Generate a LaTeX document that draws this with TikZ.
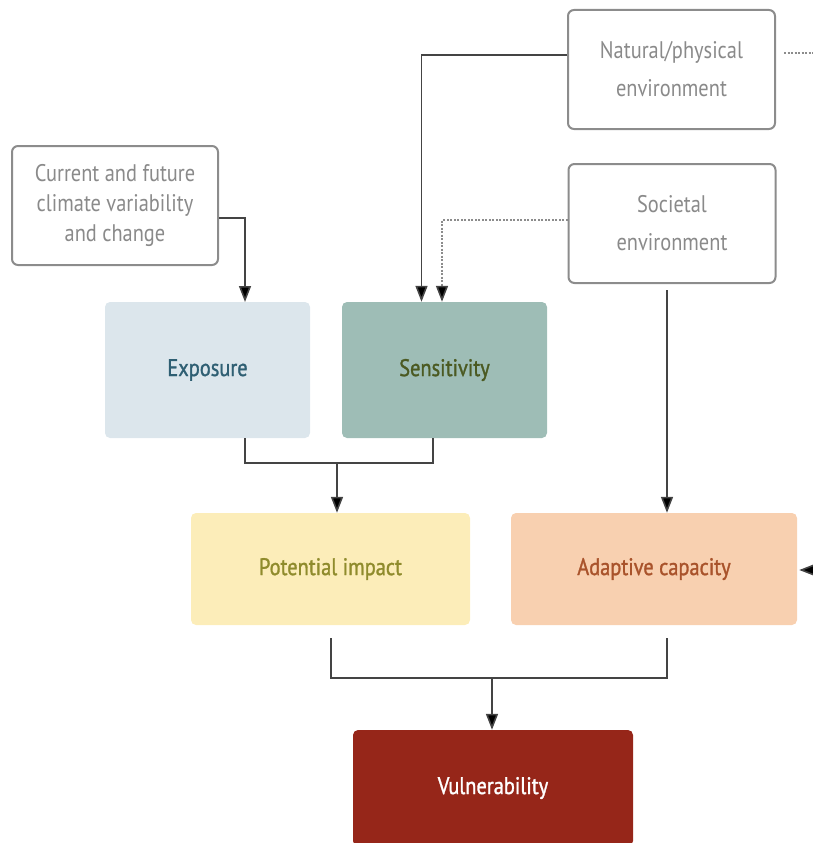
\documentclass[tikz,border=0pt]{standalone}
\usepackage{fontspec}
\setmainfont{PT Sans}[FakeStretch=0.85]
\newfontfamily\factfont{PT Sans}[FakeStretch=0.85,FakeBold=1.2]
\usetikzlibrary{arrows.meta,positioning}
\definecolor{boxgray}{HTML}{8C8C8C}
\definecolor{txtgray}{HTML}{8A8A8A}
\definecolor{expfill}{HTML}{DCE6EC}
\definecolor{exptxt}{HTML}{2F5F73}
\definecolor{senfill}{HTML}{9EBDB6}
\definecolor{sentxt}{HTML}{4B5A22}
\definecolor{potfill}{HTML}{FCEDB9}
\definecolor{pottxt}{HTML}{8F8B2C}
\definecolor{adafill}{HTML}{F8D0B0}
\definecolor{adatxt}{HTML}{A9532B}
\definecolor{vulfill}{HTML}{962619}
\definecolor{linegray}{HTML}{444444}
\tikzset{
  envbox/.style={draw=boxgray, line width=2pt, rounded corners=6pt, fill=white,
    text=txtgray, align=center, inner sep=0pt},
  factbox/.style={rounded corners=5pt, align=center, inner sep=0pt,
    font=\factfont\fontsize{24}{28}\selectfont},
  conn/.style={draw=linegray, line width=1.6pt},
  tip/.style={-{Triangle[length=16pt,width=12pt,fill=black]}},
  arr/.style={conn, tip},
  dconn/.style={draw=boxgray, line width=1.2pt, dash pattern=on 2pt off 1.5pt}
}
\begin{document}
\begin{tikzpicture}[x=1pt,y=-1pt]
\useasboundingbox (0,0) rectangle (813,843);
% environment boxes
\node[envbox, minimum width=207pt, minimum height=119pt, font=\fontsize{24}{38}\selectfont] (nat) at (671.5,69.5) {Natural/physical\\environment};
\node[envbox, minimum width=207pt, minimum height=119pt, font=\fontsize{24}{38}\selectfont] (soc) at (672,223.5) {Societal\\environment};
\node[envbox, minimum width=206pt, minimum height=119pt, font=\fontsize{24}{30}\selectfont] (cur) at (115,205.5) {Current and future\\climate variability\\and change};
% factor boxes
\node[factbox, fill=expfill, text=exptxt, minimum width=205pt, minimum height=136pt] (exp) at (207.5,370) {Exposure};
\node[factbox, fill=senfill, text=sentxt, minimum width=205pt, minimum height=136pt] (sen) at (444.5,370) {Sensitivity};
\node[factbox, fill=potfill, text=pottxt, minimum width=279pt, minimum height=112pt] (pot) at (330.5,569) {Potential impact};
\node[factbox, fill=adafill, text=adatxt, minimum width=286pt, minimum height=112pt] (ada) at (654,569) {Adaptive capacity};
\node[factbox, fill=vulfill, text=white, minimum width=280pt, minimum height=116pt] (vul) at (493,788) {Vulnerability};
% coordinates
\coordinate (natR) at (813,53);
\coordinate (adaR) at (813,570);
\coordinate (j1) at (337,463);
\coordinate (j2) at (492,678);
\coordinate (sd) at (442,220);
\coordinate (sdt) at (442,286);
% connectors
\draw[arr] (nat.west |- 0,55) -| ([xshift=-23pt]sen.north);
\draw[dconn] (soc.west |- sd) -- (sd) -- (sdt);
\draw[conn, tip] (sdt) -- (sen.north -| sd);
\draw[dconn] ([xshift=8pt]nat.east |- natR) -- (natR);
\draw[arr] (cur.east |- 0,218) -| (245,302);
\draw[conn] (245,438) |- (j1) -| (433,438);
\draw[arr] (j1) -- (pot.north -| j1);
\draw[arr] (667,290) -- (ada.north -| 667,0);
\draw[conn] (331,638) |- (j2) -| (667,638);
\draw[arr] (j2) -- (vul.north -| j2);
\draw[arr] (adaR) -- ([xshift=2pt]ada.east |- adaR);
\end{tikzpicture}
\end{document}
